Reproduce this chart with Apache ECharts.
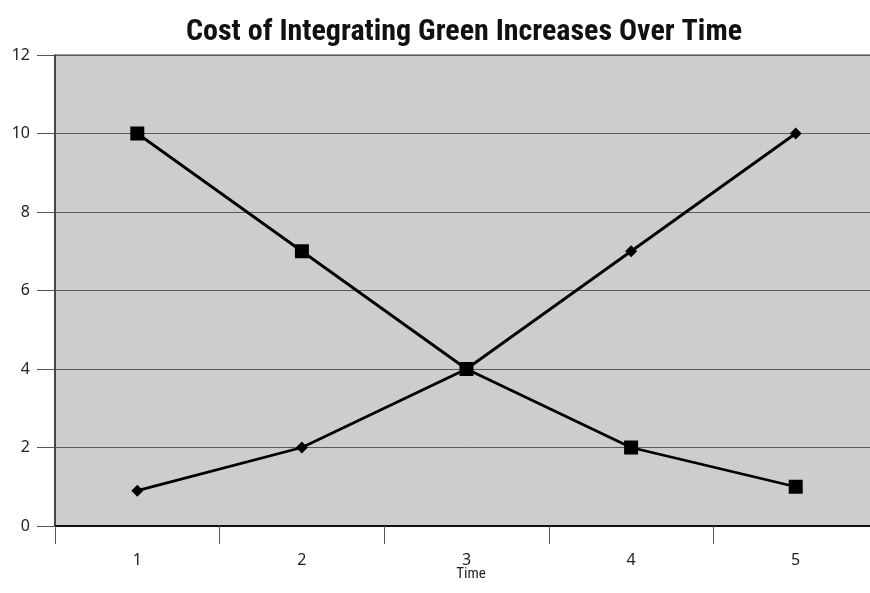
<!DOCTYPE html>
<html>
<head>
<meta charset="utf-8">
<script src="https://cdn.jsdelivr.net/npm/echarts@6/dist/echarts.min.js"></script>
<style>
  html, body { margin: 0; padding: 0; background: #fff; overflow: hidden; }
  /* canvas runs a few pixels past the window so the plot's right edge is cut off */
  #chart { width: 880px; height: 593px; }
</style>
</head>
<body>
<div id="chart"></div>
<script>
// Time periods on the horizontal axis
var timeLabels = ['1', '2', '3', '4', '5'];
// Falling cost curve (square markers)
var squareSeries = [10, 7, 4, 2, 1];
// Rising cost curve (diamond markers)
var diamondSeries = [0.9, 2, 4, 7, 10];
// Vertical axis range
var yMin = 0, yMax = 12, yStep = 2;

var chart = echarts.init(document.getElementById('chart'), null, { renderer: 'canvas' });

var labelFont = '"Noto Sans", "Open Sans", sans-serif';
var narrowFont = '"Liberation Sans Narrow", "Roboto Condensed", sans-serif';

chart.setOption({
  animation: false,
  backgroundColor: '#ffffff',
  title: [
    {
      text: 'Cost of Integrating Green Increases Over Time',
      left: 459,
      textAlign: 'center',
      top: 12,
      textStyle: {
        fontFamily: narrowFont,
        fontWeight: 'bold',
        fontSize: 30,
        color: '#111'
      }
    },
    {
      // horizontal axis caption
      text: 'Time',
      left: 466,
      textAlign: 'center',
      top: 562,
      textStyle: {
        fontFamily: narrowFont,
        fontWeight: 'normal',
        fontSize: 15,
        color: '#222'
      }
    }
  ],
  grid: {
    left: 55,
    right: 2,
    top: 55,
    bottom: 67,
    show: true,
    backgroundColor: '#cdcdcd',
    borderColor: '#333',
    borderWidth: 1
  },
  xAxis: {
    type: 'category',
    data: timeLabels,
    boundaryGap: true,
    axisLine: { lineStyle: { color: '#111', width: 2 } },
    axisTick: { show: true, interval: 0, length: 18, lineStyle: { color: '#555', width: 1 } },
    axisLabel: {
      margin: 26,
      fontFamily: labelFont,
      fontSize: 16,
      color: '#222'
    },
    splitLine: { show: false }
  },
  yAxis: {
    type: 'value',
    min: yMin,
    max: yMax,
    interval: yStep,
    axisLine: { show: true, lineStyle: { color: '#333', width: 1.5 } },
    axisTick: { show: true, length: 18, lineStyle: { color: '#555', width: 1 } },
    axisLabel: {
      margin: 25,
      fontFamily: labelFont,
      fontSize: 16,
      color: '#222'
    },
    splitLine: { show: true, lineStyle: { color: '#5a5a5a', width: 1 } }
  },
  series: [
    {
      type: 'line',
      data: squareSeries,
      symbol: 'rect',
      symbolSize: 14,
      lineStyle: { color: '#000', width: 2.8 },
      itemStyle: { color: '#000' },
      z: 3
    },
    {
      type: 'line',
      data: diamondSeries,
      symbol: 'diamond',
      symbolSize: 12,
      lineStyle: { color: '#000', width: 2.8 },
      itemStyle: { color: '#000' },
      z: 4
    }
  ]
});
</script>
</body>
</html>
